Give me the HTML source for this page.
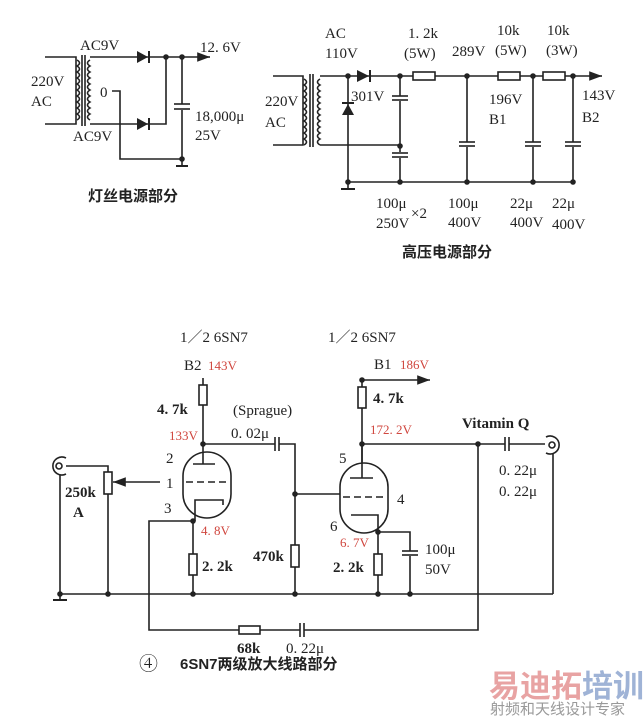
<!DOCTYPE html>
<html><head><meta charset="utf-8"><style>
html,body{margin:0;padding:0;background:#fff;}
svg{display:block;}
text{font-family:"Liberation Serif","Noto Serif CJK SC",serif;font-size:15px;fill:#222;}
.b{font-weight:bold;}
.r{fill:#d0473f;font-size:13px;}
.cn{font-family:"Liberation Sans","Noto Sans CJK SC",sans-serif;font-weight:bold;font-size:15px;}
</style></head><body>
<svg width="643" height="716" viewBox="0 0 643 716" xmlns="http://www.w3.org/2000/svg">
<rect width="643" height="716" fill="#fff"/>
<defs>
<marker id="ar" markerWidth="8" markerHeight="6" refX="8" refY="3" orient="auto"><path d="M0,0 L8,3 L0,6" fill="#222"/></marker>
</defs>
<g stroke="#222" stroke-width="1.6" fill="none">
<path d="M45,57H76V124H45"/>
<path d="M77,60q5,3 0,6q5,3 0,6q5,3 0,6q5,3 0,6q5,3 0,6q5,3 0,6q5,3 0,6q5,3 0,6q5,3 0,6q5,3 0,6"/>
<line x1="82" y1="55" x2="82" y2="126"/><line x1="85" y1="55" x2="85" y2="126"/>
<path d="M90,60q-5,3 0,6q-5,3 0,6q-5,3 0,6q-5,3 0,6q-5,3 0,6q-5,3 0,6q-5,3 0,6q-5,3 0,6q-5,3 0,6q-5,3 0,6"/>
<path d="M90,57H203"/>
<path d="M203,57H210" marker-end="url(#ar)"/>
<path d="M90,124H166V57"/>
<path d="M112,91H120V159H182"/>
<line x1="182" y1="57" x2="182" y2="104"/><line x1="182" y1="110" x2="182" y2="159"/>
<line x1="174" y1="104" x2="190" y2="104"/><line x1="174" y1="109" x2="190" y2="109"/>
<line x1="182" y1="159" x2="182" y2="165"/><line x1="176" y1="166" x2="188" y2="166" stroke-width="2"/>
<path d="M273,76H303V145H273"/>
<path d="M304,79q5,3 0,6q5,3 0,6q5,3 0,6q5,3 0,6q5,3 0,6q5,3 0,6q5,3 0,6q5,3 0,6q5,3 0,6q5,3 0,6q5,3 0,6"/>
<line x1="310" y1="74" x2="310" y2="147"/><line x1="313" y1="74" x2="313" y2="147"/>
<path d="M320,79q-5,3 0,6q-5,3 0,6q-5,3 0,6q-5,3 0,6q-5,3 0,6q-5,3 0,6q-5,3 0,6q-5,3 0,6q-5,3 0,6q-5,3 0,6q-5,3 0,6"/>
<path d="M320,76H413M435,76H498M520,76H543M565,76H590"/>
<path d="M590,76H602" marker-end="url(#ar)"/>
<rect x="413" y="72" width="22" height="8"/><rect x="498" y="72" width="22" height="8"/><rect x="543" y="72" width="22" height="8"/>
<path d="M320,145H400"/>
<line x1="348" y1="76" x2="348" y2="188"/>
<line x1="348" y1="182" x2="574" y2="182"/>
<line x1="341" y1="189" x2="355" y2="189" stroke-width="2"/>
<path d="M400,76V96M400,101V152M400,158V182"/>
<line x1="392" y1="96" x2="408" y2="96"/><line x1="392" y1="100" x2="408" y2="100"/>
<line x1="392" y1="153" x2="408" y2="153"/><line x1="392" y1="157" x2="408" y2="157"/>
<path d="M467,76V142M467,147V182"/><line x1="459" y1="142" x2="475" y2="142"/><line x1="459" y1="146" x2="475" y2="146"/>
<path d="M533,76V142M533,147V182"/><line x1="525" y1="142" x2="541" y2="142"/><line x1="525" y1="146" x2="541" y2="146"/>
<path d="M573,76V142M573,147V182"/><line x1="565" y1="142" x2="581" y2="142"/><line x1="565" y1="146" x2="581" y2="146"/>
<line x1="203" y1="378" x2="203" y2="444"/>
<rect x="199" y="385" width="8" height="20" fill="#fff"/>
<path d="M203,444H275M279,444H295V594"/>
<line x1="275" y1="437" x2="275" y2="451"/><line x1="279" y1="437" x2="279" y2="451"/>
<rect x="291" y="545" width="8" height="22" fill="#fff"/>
<rect x="183" y="452" width="48" height="66" rx="24" fill="#fff"/>
<line x1="203" y1="444" x2="203" y2="464"/>
<line x1="193" y1="464" x2="215" y2="464"/>
<line x1="186" y1="482" x2="226" y2="482" stroke-dasharray="7,4"/>
<path d="M223,505V500H195V521"/>
<line x1="193" y1="521" x2="193" y2="594"/>
<rect x="189" y="554" width="8" height="21" fill="#fff"/>
<path d="M193,521H149V630H239M260,630H300M304,630H478V444"/>
<rect x="239" y="626" width="21" height="8" fill="#fff"/>
<line x1="300" y1="623" x2="300" y2="637"/><line x1="304" y1="623" x2="304" y2="637"/>
<path d="M66,466H108V594"/>
<rect x="104" y="472" width="8" height="22" fill="#fff"/>
<path d="M160,482H113" marker-end="url(#ar)"/>
<path d="M66,458A9,9 0 1 0 66,474"/>
<circle cx="59" cy="466" r="3"/>
<line x1="60" y1="475" x2="60" y2="600"/>
<line x1="53" y1="600" x2="67" y2="600" stroke-width="2"/>
<line x1="60" y1="594" x2="553" y2="594"/>
<path d="M295,494H343"/>
<path d="M362,380H430" marker-end="url(#ar)"/>
<line x1="362" y1="380" x2="362" y2="478"/>
<rect x="358" y="387" width="8" height="21" fill="#fff"/>
<path d="M362,444H505M509,444H545"/>
<line x1="505" y1="437" x2="505" y2="451"/><line x1="509" y1="437" x2="509" y2="451"/>
<path d="M546,437A9,9 0 1 1 546,453"/>
<circle cx="552" cy="445" r="3"/>
<line x1="553" y1="454" x2="553" y2="594"/>
<rect x="340" y="463" width="48" height="70" rx="24" fill="#fff"/>
<line x1="362" y1="444" x2="362" y2="478"/>
<line x1="350" y1="478" x2="373" y2="478"/>
<line x1="343" y1="497" x2="383" y2="497" stroke-dasharray="7,4"/>
<path d="M351,515H378V532"/>
<path d="M378,532V594M378,532H410V551M410,556V594"/>
<rect x="374" y="554" width="8" height="21" fill="#fff"/>
<line x1="402" y1="551" x2="418" y2="551"/><line x1="402" y1="555" x2="418" y2="555"/>
</g>
<g fill="#222">
<polygon points="137,51 137,63 148,57"/><line x1="149" y1="51" x2="149" y2="63" stroke="#222" stroke-width="2"/>
<polygon points="137,118 137,130 148,124"/><line x1="149" y1="118" x2="149" y2="130" stroke="#222" stroke-width="2"/>
<polygon points="357,70 357,82 369,76"/><line x1="370" y1="70" x2="370" y2="82" stroke="#222" stroke-width="2"/>
<polygon points="342,115 354,115 348,104"/><line x1="342" y1="103" x2="354" y2="103" stroke="#222" stroke-width="2"/>
<circle cx="166" cy="57" r="2.8"/><circle cx="182" cy="57" r="2.8"/><circle cx="182" cy="159" r="2.8"/>
<circle cx="348" cy="76" r="2.8"/><circle cx="400" cy="76" r="2.8"/><circle cx="467" cy="76" r="2.8"/><circle cx="533" cy="76" r="2.8"/><circle cx="573" cy="76" r="2.8"/>
<circle cx="400" cy="146" r="2.8"/><circle cx="348" cy="182" r="2.8"/><circle cx="400" cy="182" r="2.8"/><circle cx="467" cy="182" r="2.8"/><circle cx="533" cy="182" r="2.8"/><circle cx="573" cy="182" r="2.8"/>
<circle cx="203" cy="444" r="2.8"/><circle cx="295" cy="494" r="2.8"/><circle cx="193" cy="521" r="2.8"/>
<circle cx="60" cy="594" r="2.8"/><circle cx="108" cy="594" r="2.8"/><circle cx="193" cy="594" r="2.8"/><circle cx="295" cy="594" r="2.8"/>
<circle cx="362" cy="380" r="2.8"/><circle cx="362" cy="444" r="2.8"/><circle cx="478" cy="444" r="2.8"/><circle cx="378" cy="532" r="2.8"/>
<circle cx="378" cy="594" r="2.8"/><circle cx="410" cy="594" r="2.8"/>
</g>
<text x="80" y="50">AC9V</text>
<text x="200" y="52">12. 6V</text>
<text x="31" y="86">220V</text><text x="31" y="106">AC</text>
<text x="100" y="97">0</text>
<text x="73" y="141">AC9V</text>
<text x="195" y="121">18,000μ</text><text x="195" y="140">25V</text>
<text x="88" y="201" class="cn">灯丝电源部分</text>
<text x="325" y="38">AC</text><text x="325" y="58">110V</text>
<text x="265" y="106">220V</text><text x="265" y="127">AC</text>
<text x="351" y="101">301V</text>
<text x="408" y="38">1. 2k</text><text x="404" y="58">(5W)</text>
<text x="452" y="56">289V</text>
<text x="497" y="35">10k</text><text x="495" y="55">(5W)</text>
<text x="547" y="35">10k</text><text x="546" y="55">(3W)</text>
<text x="489" y="104">196V</text><text x="489" y="124">B1</text>
<text x="582" y="100">143V</text><text x="582" y="122">B2</text>
<text x="376" y="208">100μ</text><text x="376" y="228">250V</text><text x="411" y="218">×2</text>
<text x="448" y="208">100μ</text><text x="448" y="227">400V</text>
<text x="510" y="208">22μ</text><text x="510" y="227">400V</text>
<text x="552" y="208">22μ</text><text x="552" y="229">400V</text>
<text x="402" y="257" class="cn">高压电源部分</text>
<text x="180" y="342">1／2 6SN7</text>
<text x="184" y="370">B2</text><text x="208" y="370" class="r">143V</text>
<text x="157" y="414" class="b">4. 7k</text>
<text x="233" y="415">(Sprague)</text>
<text x="169" y="440" class="r">133V</text>
<text x="231" y="438">0. 02μ</text>
<text x="166" y="463">2</text><text x="166" y="488">1</text><text x="164" y="513">3</text>
<text x="201" y="535" class="r">4. 8V</text>
<text x="65" y="497" class="b">250k</text><text x="73" y="517" class="b">A</text>
<text x="202" y="571" class="b">2. 2k</text>
<text x="253" y="561" class="b">470k</text>
<text x="328" y="342">1／2 6SN7</text>
<text x="374" y="369">B1</text><text x="400" y="369" class="r">186V</text>
<text x="373" y="403" class="b">4. 7k</text>
<text x="370" y="434" class="r">172. 2V</text>
<text x="462" y="428" class="b">Vitamin  Q</text>
<text x="339" y="463">5</text><text x="397" y="504">4</text><text x="330" y="531">6</text>
<text x="340" y="547" class="r">6. 7V</text>
<text x="333" y="572" class="b">2. 2k</text>
<text x="425" y="554">100μ</text><text x="425" y="574">50V</text>
<text x="499" y="475">0. 22μ</text><text x="499" y="496">0. 22μ</text>
<text x="237" y="653" class="b">68k</text><text x="286" y="653">0. 22μ</text>
<text x="139" y="670" style="font-size:19px">④</text>
<text x="180" y="669" class="cn">6SN7两级放大线路部分</text>
<text x="489" y="697" style="font-family:'Noto Sans CJK SC',sans-serif;font-weight:bold;font-size:31px;fill:#e8a3a3">易迪拓</text>
<text x="582" y="697" style="font-family:'Noto Sans CJK SC',sans-serif;font-weight:bold;font-size:31px;fill:#9fb3d6">培训</text>
<text x="490" y="714" style="font-family:'Noto Sans CJK SC',sans-serif;font-size:15px;fill:#999">射频和天线设计专家</text>
</svg>
</body></html>
